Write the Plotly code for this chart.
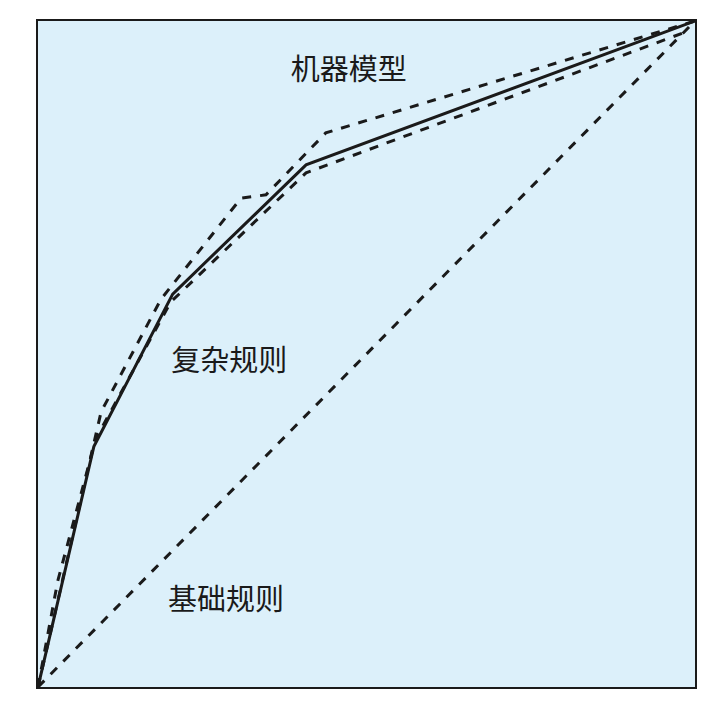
import plotly.graph_objects as go

solid_x = [0, 0.085, 0.205, 0.408, 1]
solid_y = [0, 0.361, 0.590, 0.784, 1]
dash1_x = [0, 0.096, 0.187, 0.309, 0.347, 0.438, 1]
dash1_y = [0, 0.413, 0.582, 0.734, 0.739, 0.832, 1]
dash2_x = [0, 0.030, 0.088, 0.202, 0.408, 0.99]
dash2_y = [0, 0.159, 0.373, 0.578, 0.772, 0.985]
diag_x = [0, 1]
diag_y = [0, 1]

labels = ["机器模型", "复杂规则", "基础规则"]
label_x = [0.473, 0.291, 0.286]
label_y = [0.922, 0.485, 0.126]

fig = go.Figure()
for xs, ys, dash in [(diag_x, diag_y, "dash"), (dash1_x, dash1_y, "dash"),
                     (dash2_x, dash2_y, "dash"), (solid_x, solid_y, "solid")]:
    fig.add_trace(go.Scatter(x=xs, y=ys, mode="lines",
                             line=dict(color="#1a1a1a", width=3, dash=dash)))
fig.add_trace(go.Scatter(x=label_x, y=label_y, mode="text", text=labels,
                         textfont=dict(size=29, color="#1a1a1a", family="Noto Sans CJK SC")))
fig.update_layout(
    width=723, height=717, showlegend=False,
    paper_bgcolor="white", plot_bgcolor="#dcf0fa",
    margin=dict(l=30, r=36, t=11, b=38),
    xaxis=dict(range=[0, 1], showgrid=False, zeroline=False, showticklabels=False,
               showline=True, mirror=True, linecolor="#1a1a1a", linewidth=2),
    yaxis=dict(range=[0, 1], showgrid=False, zeroline=False, showticklabels=False,
               showline=True, mirror=True, linecolor="#1a1a1a", linewidth=2),
)
fig.write_html("out.html")
